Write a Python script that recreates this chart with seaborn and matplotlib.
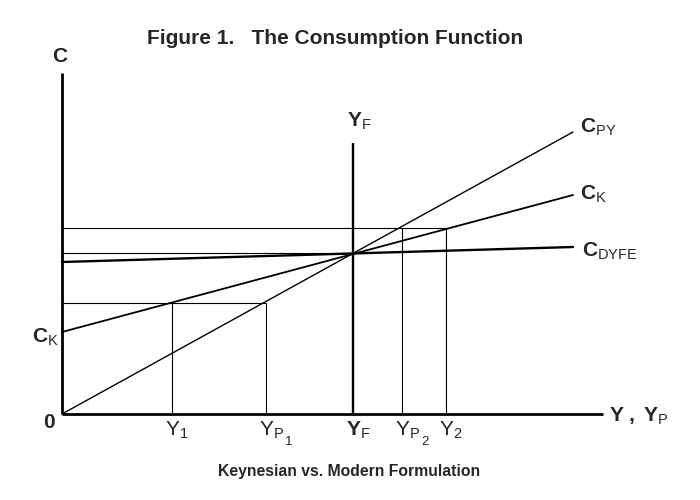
import matplotlib
matplotlib.use("Agg")
import matplotlib.pyplot as plt
import seaborn as sns

# ---- data (units: horizontal = income, vertical = consumption) ----
income_labels = [r"$\mathrm{Y}_{\mathrm{1}}$", r"$\mathrm{Y}_{\mathrm{P}}$",
                 r"$\mathbf{Y}_{\mathrm{F}}$", r"$\mathrm{Y}_{\mathrm{P}}$",
                 r"$\mathrm{Y}_{\mathrm{2}}$"]
income_subsub = ["", "1", "", "2", ""]
income_values = [110, 204, 291, 340, 384]   # Y1, YP1, YF, YP2, Y2

c_low = 111     # consumption at Y1 / YP1
c_full = 161    # consumption at full employment YF
c_high = 186    # consumption at YP2 / Y2

line_x = [0, 511]
cpy_y = [0, 282]
ck_y = [82, 219]
cdyfe_y = [152, 167]

axis_x_end = 541
axis_y_end = 341
yf_line_top = 271

sns.set_style("white")
plt.rcParams["font.family"] = ["Liberation Sans", "DejaVu Sans"]
plt.rcParams["mathtext.fontset"] = "custom"
plt.rcParams["mathtext.rm"] = "Liberation Sans"
plt.rcParams["mathtext.bf"] = "Liberation Sans:bold"
plt.rcParams["mathtext.it"] = "Liberation Sans:italic"

fig = plt.figure(figsize=(7, 5), dpi=100)
ax = fig.add_axes([0, 0, 1, 1])
ax.set_xlim(-62, 638)
ax.set_ylim(-86, 414)
ax.axis("off")

# axes
ax.plot([0, 0], [0, axis_y_end], color="black", lw=2.0, solid_capstyle="butt")
ax.plot([0, axis_x_end], [0, 0], color="black", lw=2.0, solid_capstyle="butt")

Y1, YP1, YF, YP2, Y2 = income_values

# guide lines
thin = 0.8
ax.hlines(c_high, 0, Y2, color="black", lw=thin)
ax.hlines(c_full, 0, YF, color="black", lw=thin)
ax.hlines(c_low, 0, YP1, color="black", lw=thin)
ax.vlines([Y1, YP1], 0, c_low, color="black", lw=thin)
ax.vlines([YP2, Y2], 0, c_high, color="black", lw=thin)
ax.vlines(YF, 0, yf_line_top, color="black", lw=1.7)

# consumption functions
sns.lineplot(x=line_x, y=cpy_y, ax=ax, color="black", lw=1.0)
sns.lineplot(x=line_x, y=ck_y, ax=ax, color="black", lw=1.3)
sns.lineplot(x=line_x, y=cdyfe_y, ax=ax, color="black", lw=1.7)

big = 15
# labels for curves
ax.text(518, 281, r"$\mathbf{C}_{\mathrm{PY}}$", fontsize=big, ha="left", va="baseline")
ax.text(518, 214, r"$\mathbf{C}_{\mathrm{K}}$", fontsize=big, ha="left", va="baseline")
ax.text(520, 157, r"$\mathbf{C}_{\mathrm{DYFE}}$", fontsize=big, ha="left", va="baseline")
ax.text(-30, 71, r"$\mathbf{C}_{\mathrm{K}}$", fontsize=big, ha="left", va="baseline")
ax.text(-19, -14, "0", fontsize=big, fontweight="bold", ha="left", va="baseline")
ax.text(-2, 357, "C", fontsize=big, fontweight="bold", ha="center", va="center")
ax.text(YF - 6, 287, r"$\mathbf{Y}_{\mathrm{F}}$", fontsize=big, ha="left", va="baseline")
ax.text(547, -8, r"$\mathbf{Y\ ,\ Y}_{\mathrm{P}}$", fontsize=big, ha="left", va="baseline")

for lab, sub, xv in zip(income_labels, income_subsub, income_values):
    ax.text(xv - 7, -22, lab, fontsize=big, ha="left", va="baseline")
    if sub:
        ax.text(xv + 19, -31, sub, fontsize=9.5, ha="left", va="baseline")

fig.text(335 / 700, 1 - 44 / 500, "Figure 1.   The Consumption Function",
         fontsize=15, fontweight="bold", ha="center", va="baseline")
fig.text(349 / 700, 1 - 476 / 500, "Keynesian vs. Modern Formulation",
         fontsize=11.3, fontweight="bold", ha="center", va="baseline")

fig.savefig("out.png", dpi=100)
